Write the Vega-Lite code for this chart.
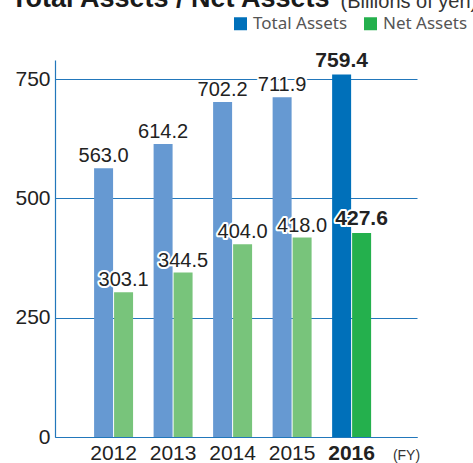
{
  "$schema": "https://vega.github.io/schema/vega-lite/v6.json",
  "width": 362,
  "height": 377,
  "autosize": {"type": "none"},
  "padding": {"left": 55, "top": 60, "right": 56, "bottom": 26},
  "background": "white",
  "config": {"view": {"stroke": null}, "font": "Liberation Sans"},
  "title": {
    "text": "Total Assets / Net Assets",
    "anchor": "start",
    "frame": "group",
    "fontSize": 27,
    "fontWeight": "bold",
    "font": "Liberation Sans",
    "color": "#1a1a1a",
    "baseline": "alphabetic",
    "dx": -44,
    "dy": 43,
    "offset": 0
  },
  "data": {
    "values": [
      {"year": "2012", "type": "Total Assets", "value": 563.0},
      {"year": "2012", "type": "Net Assets", "value": 303.1},
      {"year": "2013", "type": "Total Assets", "value": 614.2},
      {"year": "2013", "type": "Net Assets", "value": 344.5},
      {"year": "2014", "type": "Total Assets", "value": 702.2},
      {"year": "2014", "type": "Net Assets", "value": 404.0},
      {"year": "2015", "type": "Total Assets", "value": 711.9},
      {"year": "2015", "type": "Net Assets", "value": 418.0},
      {"year": "2016", "type": "Total Assets", "value": 759.4},
      {"year": "2016", "type": "Net Assets", "value": 427.6}
    ]
  },
  "transform": [
    {"calculate": "datum.year == '2016' ? datum.type : datum.type + ' (prior)'", "as": "shade"}
  ],
  "encoding": {
    "x": {
      "field": "year",
      "type": "ordinal",
      "scale": {"paddingInner": 0.345, "paddingOuter": 0.714, "align": 0.46},
      "title": "(FY)",
      "axis": {
        "domainColor": "#2277bb",
        "domainWidth": 1.2,
        "ticks": false,
        "labelAngle": 0,
        "labelFont": "Liberation Sans",
        "labelFontSize": 21,
        "labelColor": "#222222",
        "labelPadding": 5,
        "labelFontWeight": {"condition": {"test": "datum.value == '2016'", "value": "bold"}, "value": "normal"},
        "titleFont": "Liberation Sans",
        "titleFontSize": 14,
        "titleFontWeight": "normal",
        "titleColor": "#333333",
        "titleX": 351,
        "titleY": 18,
        "titleAlign": "center",
        "titleBaseline": "middle"
      }
    },
    "xOffset": {"field": "type", "sort": ["Total Assets", "Net Assets"], "scale": {"paddingInner": 0.05}},
    "y": {
      "field": "value",
      "type": "quantitative",
      "scale": {"domain": [0, 790], "nice": false},
      "title": "(Billions of yen)",
      "axis": {
        "values": [0, 250, 500, 750],
        "domainColor": "#2277bb",
        "domainWidth": 1.2,
        "ticks": false,
        "gridColor": "#2277bb",
        "gridWidth": 1,
        "labelFont": "Liberation Sans",
        "labelFontSize": 21,
        "labelColor": "#222222",
        "labelPadding": 5,
        "titleAngle": 0,
        "titleX": 285,
        "titleY": -53,
        "titleAlign": "left",
        "titleBaseline": "alphabetic",
        "titleFont": "Liberation Sans",
        "titleFontSize": 20,
        "titleFontWeight": "normal",
        "titleColor": "#333333"
      }
    }
  },
  "layer": [
    {
      "mark": {"type": "bar"},
      "encoding": {
        "color": {
          "field": "shade",
          "type": "nominal",
          "scale": {
            "domain": ["Total Assets", "Net Assets", "Total Assets (prior)", "Net Assets (prior)"],
            "range": ["#0070ba", "#24b04d", "#6699d2", "#78c47b"]
          },
          "legend": {
            "values": ["Total Assets", "Net Assets"],
            "title": null,
            "orient": "none",
            "legendX": 177,
            "legendY": -45,
            "direction": "horizontal",
            "symbolType": "square",
            "symbolSize": 169,
            "symbolStrokeWidth": 0,
            "symbolOpacity": 1,
            "labelFont": "Noto Sans",
            "labelFontSize": 17,
            "labelColor": "#555555",
            "labelOffset": 4,
            "columnPadding": 14
          }
        }
      }
    },
    {
      "transform": [{"filter": "datum.year != '2016'"}],
      "mark": {"type": "text", "dy": -6, "baseline": "alphabetic", "fontSize": 20, "font": "Liberation Sans", "fill": "white", "stroke": "white", "strokeWidth": 4, "strokeJoin": "round"},
      "encoding": {"text": {"field": "value", "type": "quantitative", "format": ".1f"}}
    },
    {
      "transform": [{"filter": "datum.year != '2016'"}],
      "mark": {"type": "text", "dy": -6, "baseline": "alphabetic", "fontSize": 20, "font": "Liberation Sans", "fill": "#222222"},
      "encoding": {"text": {"field": "value", "type": "quantitative", "format": ".1f"}}
    },
    {
      "transform": [{"filter": "datum.year == '2016'"}],
      "mark": {"type": "text", "dy": -8, "baseline": "alphabetic", "fontSize": 21, "fontWeight": "bold", "font": "Liberation Sans", "fill": "white", "stroke": "white", "strokeWidth": 4, "strokeJoin": "round"},
      "encoding": {"text": {"field": "value", "type": "quantitative", "format": ".1f"}}
    },
    {
      "transform": [{"filter": "datum.year == '2016'"}],
      "mark": {"type": "text", "dy": -8, "baseline": "alphabetic", "fontSize": 21, "fontWeight": "bold", "font": "Liberation Sans", "fill": "#222222"},
      "encoding": {"text": {"field": "value", "type": "quantitative", "format": ".1f"}}
    }
  ]
}
